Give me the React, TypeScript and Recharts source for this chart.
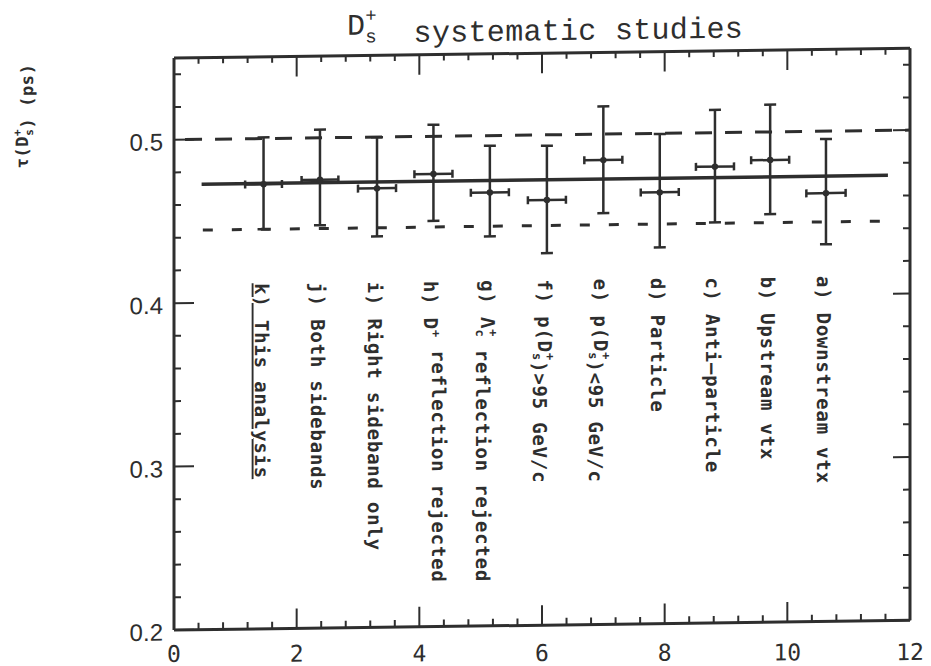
import React from 'react';
import { ComposedChart, XAxis, YAxis, Line, Scatter, ErrorBar } from 'recharts';

const INK = '#2e2e2e';

// the eleven systematic checks, left to right (k ... a)
const cutX = [1.46, 2.38, 3.31, 4.23, 5.15, 6.08, 7.0, 7.92, 8.82, 9.72, 10.63];
const cutXErr = [0.3, 0.3, 0.31, 0.31, 0.31, 0.31, 0.31, 0.31, 0.31, 0.31, 0.32];
const tau = [0.472, 0.4743, 0.4686, 0.4769, 0.4652, 0.4601, 0.4841, 0.4639, 0.4792, 0.4828, 0.4621];
const tauHigh = [0.5007, 0.505, 0.4999, 0.5071, 0.4938, 0.4933, 0.517, 0.4996, 0.5139, 0.5167, 0.4952];
const tauLow = [0.4445, 0.4465, 0.4392, 0.4483, 0.4383, 0.4276, 0.4516, 0.4302, 0.4451, 0.4497, 0.4308];
const cutLabels = [
  'k) This analysis',
  'j) Both sidebands',
  'i) Right sideband only',
  'h) D^+ reflection rejected',
  'g) Λ_c^+ reflection rejected',
  'f) p(D_s^+)>95 GeV/c',
  'e) p(D_s^+)<95 GeV/c',
  'd) Particle',
  'c) Anti–particle',
  'b) Upstream vtx',
  'a) Downstream vtx',
];
const labelTop = 0.4115;

// central value and the +-1 sigma band
const fitX = [0.45, 11.64];
const fitTau = [0.4725, 0.4725];
const bandHighX = [0.18, 12];
const bandHigh = [0.5, 0.5];
const bandLowX = [0.47, 11.75];
const bandLow = [0.4445, 0.4445];

const xMajor = [0, 2, 4, 6, 8, 10, 12];
const xMinorPerMajor = 5;
const yMajor = [0.2, 0.3, 0.4, 0.5];
const yMinorPerMajor = 5;
const yMax = 0.55;

const subdivide = (major: number[], n: number, max: number) => {
  const step = (major[1] - major[0]) / n;
  const out: number[] = [];
  for (let v = major[0]; v <= max + 1e-9; v += step) out.push(Number(v.toFixed(4)));
  return out;
};
const xTicks = subdivide(xMajor, xMinorPerMajor, 12);
const yTicks = subdivide(yMajor, yMinorPerMajor, 0.541);
const isMajor = (v: any, majors: number[]) => majors.some((m) => Math.abs(m - Number(v)) < 1e-6);

// the scanned page is slightly sheared; labels under the x axis were not
const SKEW = 0.0131;

function rich(text: string, size: number, spacing: number) {
  const parts = text.split(/(_[a-z]\^\+|\^\+)/);
  const small = Math.round(size * 0.62);
  const up = Math.round(size * 0.42);
  const down = Math.round(size * 0.28);
  const out: React.ReactNode[] = [];
  parts.forEach((p, i) => {
    if (p === '^+') {
      out.push(<tspan key={i} fontSize={small} dy={-up}>+</tspan>);
      out.push(<tspan key={i + 'r'} dy={up}>{''}</tspan>);
    } else if (p.startsWith('_')) {
      out.push(<tspan key={i} fontSize={small} dy={-up}>+</tspan>);
      out.push(
        <tspan key={i + 's'} fontSize={small} dx={-(small * 0.6 + spacing)} dy={up + down}>
          {p[1]}
        </tspan>
      );
      out.push(<tspan key={i + 'r'} dy={-down}>{''}</tspan>);
    } else if (p) {
      out.push(<tspan key={i}>{p}</tspan>);
    }
  });
  return out;
}

function BottomTick(props: any) {
  const { x, y, payload } = props;
  const major = isMajor(payload.value, xMajor);
  return (
    <g>
      <line x1={x} x2={x} y1={y} y2={y - (major ? 20 : 7)} stroke={INK} strokeWidth={2} />
      {major && (
        <text x={x} y={y + 32 + SKEW * 0.8 * (x - 174)} textAnchor="middle" fontFamily="DejaVu Sans Mono" fontSize={23} fill={INK}>
          {payload.value}
        </text>
      )}
    </g>
  );
}

function TopTick(props: any) {
  const { x, y, payload } = props;
  const major = isMajor(payload.value, xMajor);
  return <line x1={x} x2={x} y1={y} y2={y + (major ? 20 : 6)} stroke={INK} strokeWidth={2} />;
}

function LeftTick(props: any) {
  const { x, y, payload } = props;
  const major = isMajor(payload.value, yMajor);
  return (
    <g>
      <line x1={x} x2={x + (major ? 20 : 7)} y1={y} y2={y} stroke={INK} strokeWidth={2} />
      {major && (
        <text x={x - 11} y={y + 10.5} textAnchor="end" fontFamily="Liberation Sans" fontSize={24} fill={INK}>
          {Number(payload.value).toFixed(1)}
        </text>
      )}
    </g>
  );
}

function RightTick(props: any) {
  const { x, y, payload } = props;
  const major = isMajor(payload.value, yMajor);
  return <line x1={x} x2={x - (major ? 17 : 7)} y1={y} y2={y} stroke={INK} strokeWidth={2} />;
}

function CutLabel(props: any) {
  const { cx, cy, payload } = props;
  return (
    <text
      x={cx}
      y={cy}
      dy={9}
      transform={`rotate(90 ${cx} ${cy})`}
      fontFamily="DejaVu Sans Mono"
      fontWeight="bold"
      fontSize={19}
      letterSpacing={0.8}
      fill={INK}
      textDecoration={payload.underline ? 'underline' : undefined}
    >
      {rich(payload.text, 19, 0.8)}
    </text>
  );
}

const toLine = (xs: number[], ys: number[]) => xs.map((x, i) => ({ x, y: ys[i] }));

export default function App() {
  const points = cutX.map((x, i) => ({
    x,
    y: tau[i],
    ex: cutXErr[i],
    ey: [tau[i] - tauLow[i], tauHigh[i] - tau[i]],
  }));
  const labels = cutX.map((x, i) => ({ x, y: labelTop, text: cutLabels[i], underline: i === 0 }));
  const axisLine = { stroke: INK, strokeWidth: 3 };

  return (
    <div
      style={{
        position: 'absolute',
        left: 0,
        top: 0,
        width: 931,
        height: 666,
        background: '#fff',
        transform: `skewY(-0.75deg)`,
        transformOrigin: '174px 0px',
      }}
    >
      <style>{'.recharts-surface{overflow:visible}'}</style>
      <ComposedChart width={931} height={666} margin={{ top: 57, right: 20, bottom: 0, left: 0 }}>
        <XAxis dataKey="x" type="number" domain={[0, 12]} ticks={xTicks} interval={0} tickSize={0} tickMargin={0}
          tickLine={false} tick={(p: any) => <BottomTick {...p} />} axisLine={axisLine} height={36} allowDataOverflow />
        <XAxis xAxisId="top" dataKey="x" orientation="top" type="number" domain={[0, 12]} ticks={xTicks} interval={0} tickSize={0}
          tickMargin={0} tickLine={false} tick={(p: any) => <TopTick {...p} />} axisLine={axisLine} height={1} allowDataOverflow />
        <YAxis dataKey="y" type="number" domain={[0.2, yMax]} ticks={yTicks} interval={0} tickSize={0} tickMargin={0}
          tickLine={false} tick={(p: any) => <LeftTick {...p} />} axisLine={axisLine} width={174} allowDataOverflow />
        <YAxis yAxisId="right" dataKey="y" orientation="right" type="number" domain={[0.2, yMax]} ticks={yTicks} interval={0} tickSize={0}
          tickMargin={0} tickLine={false} tick={(p: any) => <RightTick {...p} />} axisLine={axisLine} width={1} allowDataOverflow />

        {/* carries the top and right frame axes */}
        <Line xAxisId="top" yAxisId="right" data={toLine(fitX, fitTau)} dataKey="y" stroke="none" dot={false}
          activeDot={false} isAnimationActive={false} />

        <Line data={toLine(bandHighX, bandHigh)} dataKey="y" type="linear" stroke={INK} strokeWidth={3}
          strokeDasharray="17 13" dot={false} activeDot={false} isAnimationActive={false} />
        <Line data={toLine(bandLowX, bandLow)} dataKey="y" type="linear" stroke={INK} strokeWidth={3}
          strokeDasharray="10 19" dot={false} activeDot={false} isAnimationActive={false} />
        <Line data={toLine(fitX, fitTau)} dataKey="y" type="linear" stroke={INK} strokeWidth={3.5}
          dot={false} activeDot={false} isAnimationActive={false} />

        <Scatter data={points} isAnimationActive={false}
          shape={(p: any) => <circle cx={p.cx} cy={p.cy} r={3.2} fill={INK} />}>
          <ErrorBar dataKey="ey" direction="y" width={6} stroke={INK} strokeWidth={2.5} />
          <ErrorBar dataKey="ex" direction="x" width={4} stroke={INK} strokeWidth={2.5} />
        </Scatter>
        <Scatter data={labels} isAnimationActive={false} shape={(p: any) => <CutLabel {...p} />} />
      </ComposedChart>

      <svg width={931} height={666} style={{ position: 'absolute', left: 0, top: 0, pointerEvents: 'none' }}>
        <text x={347} y={37} fontFamily="Liberation Mono" fontSize={30} letterSpacing={0.3} fill={INK} style={{ whiteSpace: 'pre' }}>
          {rich('D_s^+  systematic studies', 30, 0.3)}
        </text>
        <text
          x={22}
          y={114}
          transform="rotate(-90 22 114)"
          textAnchor="middle"
          dy={6}
          fontFamily="DejaVu Sans Mono"
          fontWeight="bold"
          fontSize={17}
          letterSpacing={0.6}
          fill={INK}
          style={{ whiteSpace: 'pre' }}
        >
          {rich('τ(D_s^+) (ps)', 17, 0.6)}
        </text>
      </svg>
    </div>
  );
}
